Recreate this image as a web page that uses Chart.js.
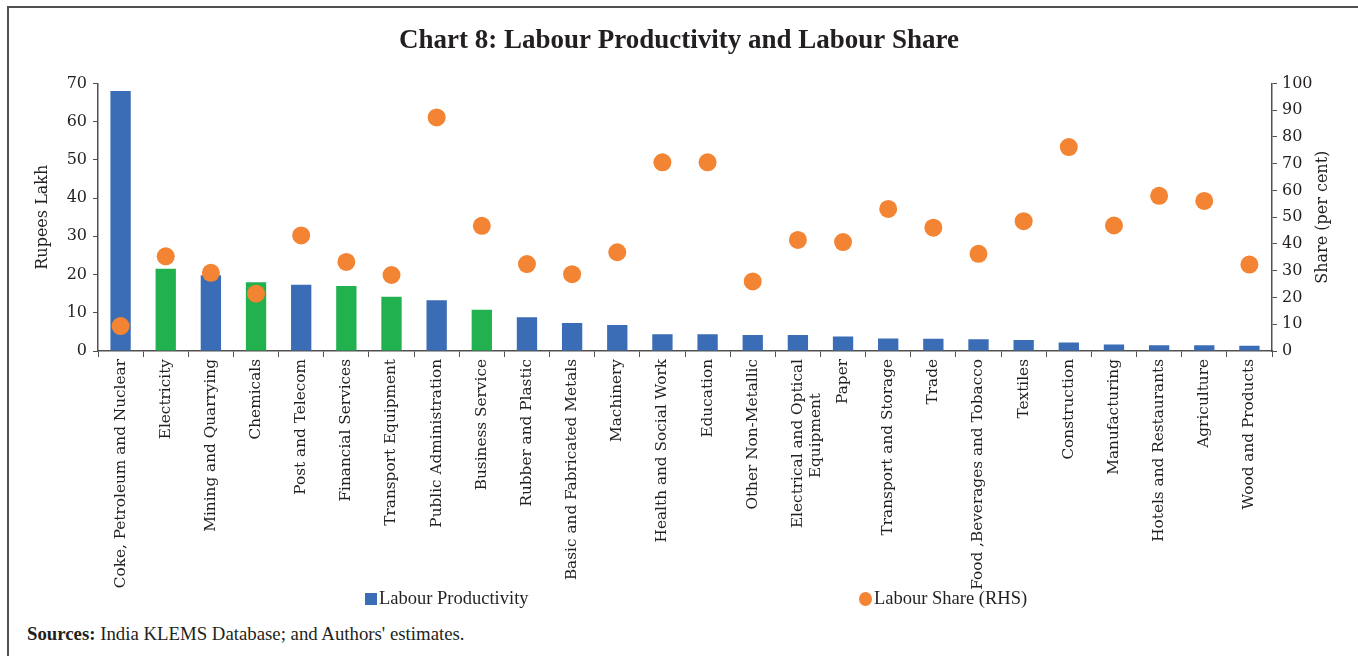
<!DOCTYPE html>
<html>
<head>
<meta charset="utf-8">
<script src="https://cdn.jsdelivr.net/npm/chart.js@4"></script>
<style>
html,body{margin:0;padding:0;background:#fff;}
#wrap{position:relative;width:1358px;height:656px;overflow:hidden;background:#fff;}
#frame{position:absolute;left:7px;top:6px;width:1400px;height:700px;border-top:2px solid #505050;border-left:2px solid #505050;}
#c{position:absolute;left:0;top:0;}
.leg{position:absolute;top:588px;font-family:'Liberation Serif',serif;font-size:18.5px;color:#231f20;line-height:21px;white-space:nowrap;}
.sw{position:absolute;}
#src{position:absolute;left:27px;top:623px;font-family:'Liberation Serif',serif;font-size:18.8px;color:#231f20;white-space:nowrap;}
</style>
</head>
<body>
<div id="wrap">
  <div id="frame"></div>
  <canvas id="c" width="1358" height="620"></canvas>
  <div class="sw" style="left:365px;top:593px;width:12px;height:12px;background:#3a6db5;"></div>
  <div class="leg" style="left:379px;">Labour Productivity</div>
  <div class="sw" style="left:859px;top:592px;width:13px;height:14px;border-radius:50%;background:#f28433;"></div>
  <div class="leg" style="left:874px;">Labour Share (RHS)</div>
  <div id="src"><b>Sources:</b> India KLEMS Database; and Authors' estimates.</div>
</div>
<script>
// ---- data ----
const categories = [
  'Coke, Petroleum and Nuclear', 'Electricity', 'Mining and Quarrying', 'Chemicals',
  'Post and Telecom', 'Financial Services', 'Transport Equipment', 'Public Administration',
  'Business Service', 'Rubber and Plastic', 'Basic and Fabricated Metals', 'Machinery',
  'Health and Social Work', 'Education', 'Other Non-Metallic',
  ['Electrical and Optical', 'Equipment       '],
  'Paper', 'Transport and Storage', 'Trade', 'Food ,Beverages and Tobacco', 'Textiles',
  'Construction', 'Manufacturing', 'Hotels and Restaurants', 'Agriculture', 'Wood and Products'
];
const labourProductivity = [68, 21.5, 19.8, 18, 17.3, 17, 14.2, 13.3, 10.8, 8.8, 7.3, 6.8,
  4.4, 4.4, 4.2, 4.2, 3.8, 3.3, 3.2, 3.1, 2.9, 2.2, 1.7, 1.5, 1.5, 1.4];
const labourShare = [9.3, 35.4, 29.2, 21.4, 43.2, 33.3, 28.4, 87.3, 46.8, 32.5, 28.7, 36.9,
  70.5, 70.5, 26, 41.5, 40.7, 53.1, 46.1, 36.3, 48.5, 76.2, 46.9, 58, 56.1, 32.3];
const highlightedSectors = [1, 3, 5, 6, 8]; // indices of green bars
const leftTicks = { min: 0, max: 70, step: 10 };
const rightTicks = { min: 0, max: 100, step: 10 };
const rightAxisTitle = 'Share (per cent)';

// ---- styles ----
const BLUE = '#3a6db5', GREEN = '#21b14f', ORANGE = '#f28433', AXIS = '#505050', TXT = '#231f20';
const barColors = labourProductivity.map((v, i) => highlightedSectors.includes(i) ? GREEN : BLUE);
const tickFont = { family: 'DejaVu Serif', size: 16 };

// right-axis title reading bottom-to-top, like the left one
const rightTitlePlugin = {
  id: 'rightTitle',
  afterDraw(chart) {
    const s = chart.scales.y2;
    const ctx = chart.ctx;
    ctx.save();
    ctx.translate(s.right - 35, (s.top + s.bottom) / 2);
    ctx.rotate(-Math.PI / 2);
    ctx.font = '16px "DejaVu Serif"';
    ctx.fillStyle = TXT;
    ctx.textAlign = 'center';
    ctx.textBaseline = 'middle';
    ctx.fillText(rightAxisTitle, 0, 0);
    ctx.restore();
  }
};

new Chart(document.getElementById('c'), {
  type: 'bar',
  data: {
    labels: categories,
    datasets: [
      {
        type: 'line',
        label: 'Labour Share (RHS)',
        data: labourShare,
        yAxisID: 'y2',
        showLine: false,
        pointRadius: 9,
        pointHoverRadius: 9,
        pointBackgroundColor: ORANGE,
        pointBorderWidth: 0,
        backgroundColor: ORANGE,
        borderColor: ORANGE,
        order: 0
      },
      {
        type: 'bar',
        label: 'Labour Productivity',
        data: labourProductivity,
        yAxisID: 'y',
        backgroundColor: barColors,
        borderWidth: 0,
        categoryPercentage: 1,
        barPercentage: 0.45,
        order: 1
      }
    ]
  },
  plugins: [rightTitlePlugin],
  options: {
    responsive: false,
    devicePixelRatio: 1,
    animation: false,
    layout: { padding: { left: 0, right: 0, top: 0, bottom: 0 } },
    plugins: {
      legend: { display: false },
      tooltip: { enabled: false },
      title: {
        display: true,
        text: 'Chart 8: Labour Productivity and Labour Share',
        color: TXT,
        font: { family: 'Liberation Serif', size: 27, weight: 'bold' },
        padding: { top: 25, bottom: 26 }
      }
    },
    scales: {
      x: {
        offset: true,
        grid: { display: true, drawOnChartArea: false, drawTicks: true, tickLength: 6, color: AXIS, offset: true },
        border: { display: true, color: AXIS, width: 1.5 },
        ticks: { autoSkip: false, minRotation: 90, maxRotation: 90, padding: 2, color: TXT,
                 font: { family: 'DejaVu Serif', size: 15.3 } },
        afterFit: s => { s.height = 620 - 351; }
      },
      y: {
        position: 'left',
        min: leftTicks.min, max: leftTicks.max,
        ticks: { stepSize: leftTicks.step, color: TXT, font: tickFont, padding: 6 },
        grid: { drawOnChartArea: false, tickLength: 5, color: AXIS },
        border: { display: true, color: AXIS, width: 1.5 },
        title: { display: true, text: 'Rupees Lakh', color: TXT, font: tickFont, padding: { top: 33, bottom: 0 } },
        afterFit: s => { s.width = 98; }
      },
      y2: {
        position: 'right',
        min: rightTicks.min, max: rightTicks.max,
        ticks: { stepSize: rightTicks.step, color: TXT, font: tickFont, padding: 5 },
        grid: { drawOnChartArea: false, tickLength: 5, color: AXIS },
        border: { display: true, color: AXIS, width: 1.5 },
        title: { display: false },
        afterFit: s => { s.width = 86; }
      }
    }
  }
});
</script>
</body>
</html>
